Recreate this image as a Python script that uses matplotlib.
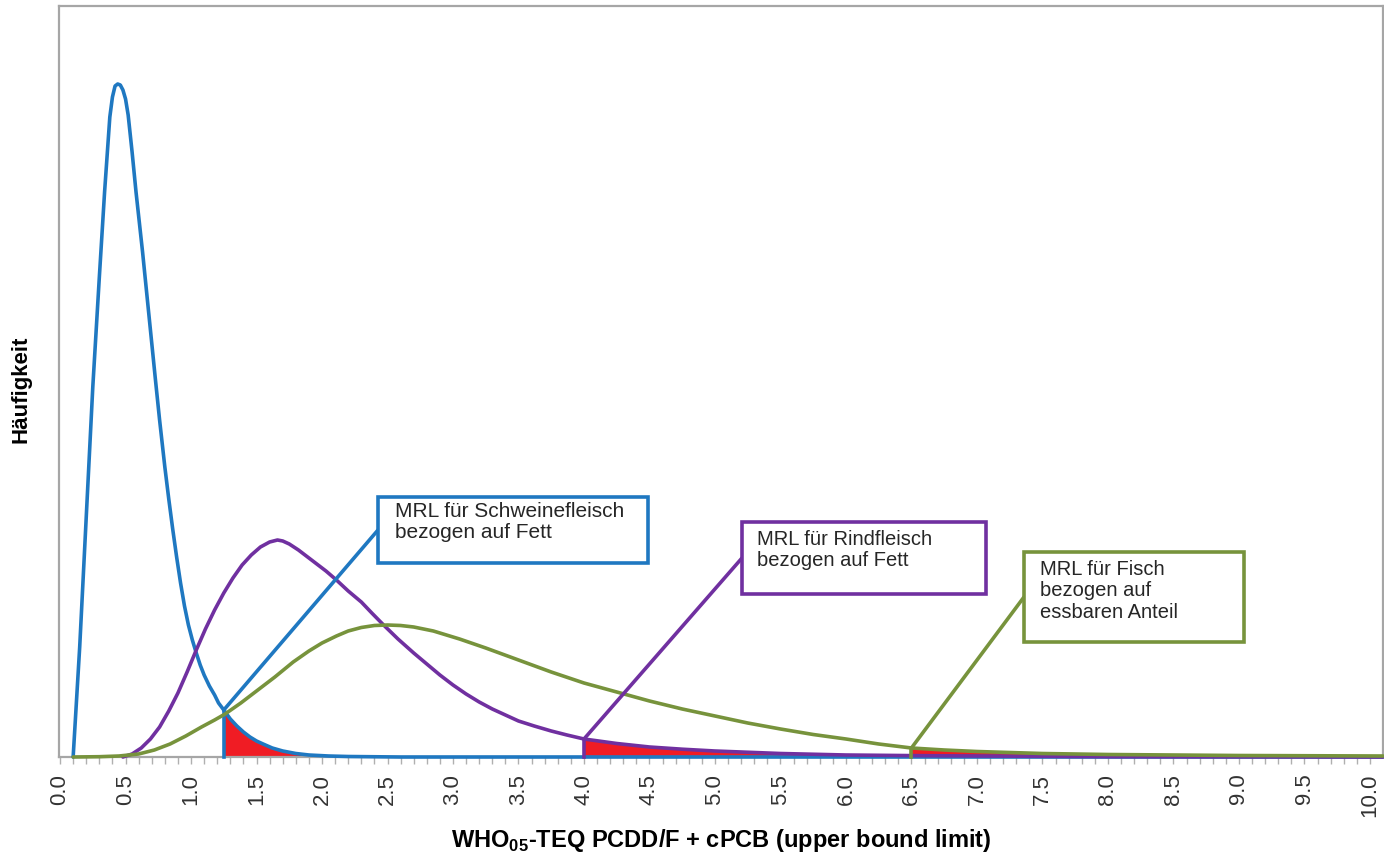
import numpy as np
import matplotlib.pyplot as plt
from matplotlib.patches import Rectangle

plt.rcParams['font.family'] = ['Liberation Sans', 'DejaVu Sans']
plt.rcParams['mathtext.fontset'] = 'custom'
plt.rcParams['mathtext.rm'] = 'Liberation Sans'
plt.rcParams['mathtext.bf'] = 'Liberation Sans:bold'

# Häufigkeitsverteilungen (relative Höhe)
x_schwein = [0.10, 0.15, 0.20, 0.25, 0.30, 0.34, 0.38, 0.40, 0.42, 0.44, 0.46, 0.48,
             0.50, 0.52, 0.55, 0.58, 0.63, 0.68, 0.73, 0.76, 0.80, 0.83, 0.86, 0.89,
             0.92, 0.95, 0.98, 1.01, 1.04, 1.07, 1.10, 1.14, 1.18, 1.21, 1.25, 1.30,
             1.35, 1.40, 1.45, 1.50, 1.55, 1.62, 1.70, 1.80, 1.90, 2.05, 2.20, 2.60, 10.1]
y_schwein = [0, 110, 240, 370, 480, 565, 640, 660, 671, 673, 672, 667,
             658, 642, 605, 565, 505, 440, 375, 337, 290, 258, 228, 200,
             174, 151, 132, 117, 104, 92, 82, 71, 62, 54, 47, 38,
             31, 25, 20, 16, 13, 9, 6, 3.5, 2, 1, 0.5, 0, 0]

x_rind = [0.48, 0.55, 0.62, 0.69, 0.76, 0.83, 0.90, 0.97, 1.04, 1.11, 1.18, 1.25,
          1.32, 1.39, 1.46, 1.53, 1.60, 1.66, 1.70, 1.75, 1.82, 1.88, 1.95, 2.03,
          2.11, 2.20, 2.30, 2.38, 2.47, 2.58, 2.70, 2.80, 2.90, 3.00, 3.10, 3.20,
          3.30, 3.40, 3.50, 3.62, 3.75, 3.87, 4.00, 4.25, 4.50, 4.75, 5.00, 5.50,
          6.00, 6.50, 7.00, 8.00, 10.1]
y_rind = [0, 3, 9, 18, 30, 46, 64, 85, 107, 128, 147, 164,
          179, 192, 202, 210, 215, 217, 216, 213, 207, 201, 194, 186,
          177, 166, 155, 144, 132, 118, 104, 93, 82, 72, 63, 55,
          48, 42, 36, 31, 26, 22, 18, 13.5, 10, 7.8, 6, 3.5,
          2, 1.4, 1, 0.3, 0]

x_fisch = [0.10, 0.30, 0.45, 0.60, 0.72, 0.84, 0.96, 1.08, 1.18, 1.26, 1.38, 1.50,
           1.64, 1.78, 1.90, 2.00, 2.11, 2.20, 2.30, 2.40, 2.50, 2.60, 2.70, 2.85,
           3.05, 3.25, 3.50, 3.75, 4.00, 4.25, 4.50, 4.75, 5.00, 5.25, 5.50, 5.75,
           6.00, 6.25, 6.50, 6.75, 7.00, 7.50, 8.00, 9.00, 10.1]
y_fisch = [0, 0.3, 1, 3, 7, 13, 21, 30, 37, 43, 54, 66,
           80, 95, 106, 114, 121, 126, 129.5, 131.5, 132, 131.5, 130, 126,
           118, 109, 97, 85, 74, 65, 56, 48, 41, 34, 28, 22.5,
           18, 13, 9, 7, 5.5, 3.5, 2.5, 1.5, 1]

mrl = [1.25, 4.0, 6.5]
labels = ['MRL für Schweinefleisch\nbezogen auf Fett',
          'MRL für Rindfleisch\nbezogen auf Fett',
          'MRL für Fisch\nbezogen auf\nessbaren Anteil']
colors = ['#1f78c1', '#7030a0', '#77933c']

# Kästen in Bildpixeln (links, oben, rechts, unten)
boxes = [(378, 497, 648, 563), (742, 522, 986, 594), (1024, 552, 1244, 642)]
text_pos = [(395, 502), (757, 530), (1040, 560)]
text_size = [15, 14.5, 14.5]

W, H = 1384, 857
fig = plt.figure(figsize=(W / 100, H / 100), dpi=100)
ax = fig.add_axes([59 / W, 100 / H, (1383 - 59) / W, 751 / H])

series = [(x_schwein, y_schwein), (x_rind, y_rind), (x_fisch, y_fisch)]

# rote Flächen oberhalb MRL
for (xs, ys), m in zip(series, mrl):
    xs = np.array(xs)
    ys = np.array(ys)
    sel = xs >= m
    ax.fill_between(xs[sel], 0, ys[sel], color='#f01c24', lw=0, zorder=1)

for (xs, ys), m, c in zip(series, mrl, colors):
    ax.plot(xs, ys, color=c, lw=2.6, zorder=3, clip_on=False,
            solid_joinstyle='round', solid_capstyle='round')
    h = np.interp(m, xs, ys)
    ax.plot([m, m], [0, h], color=c, lw=2.6, zorder=3, clip_on=False)

ax.set_xlim(-0.008, 10.1)
ax.set_ylim(0, 751)
ax.set_yticks([])
ticks = np.arange(0, 10.01, 0.5)
ax.set_xticks(ticks)
ax.set_xticklabels(['%.1f' % v for v in ticks], rotation=90,
                   fontsize=16, color='#333333')
ax.set_xticks(np.arange(0, 10.01, 0.1), minor=True)
ax.tick_params(axis='x', which='both', direction='out', length=5, width=1,
               color='#b0b0b0', pad=7)
for s in ax.spines.values():
    s.set_color('#a6a6a6')
    s.set_linewidth(1.6)

ax.set_ylabel('Häufigkeit', fontsize=16, fontweight='bold')
ax.yaxis.set_label_coords(-0.021, 0.49)
fig.text(721 / W, 1 - 840 / H, r'WHO$_{\mathbf{05}}$-TEQ PCDD/F + cPCB (upper bound limit)',
         fontsize=17, fontweight='bold', ha='center', va='center')

for (xs, ys), m, c, b, tp, lab, fs in zip(series, mrl, colors, boxes, text_pos, labels, text_size):
    l, t, r, bt = b
    fig.patches.append(Rectangle((l / W, 1 - bt / H), (r - l) / W, (bt - t) / H,
                                 transform=fig.transFigure, facecolor='white',
                                 edgecolor=c, lw=2.6, zorder=5))
    fig.text(tp[0] / W, 1 - tp[1] / H, lab, fontsize=fs, color='#262626',
             ha='left', va='top', linespacing=1.15, zorder=6)
    h = np.interp(m, xs, ys)
    ax.annotate('', xy=(m, h), xycoords='data',
                xytext=(l / W, 1 - (t + bt) / 2 / H), textcoords='figure fraction',
                arrowprops=dict(arrowstyle='-', color=c, lw=2.6, shrinkA=0, shrinkB=0),
                zorder=4)

fig.savefig('out.png', dpi=100)
